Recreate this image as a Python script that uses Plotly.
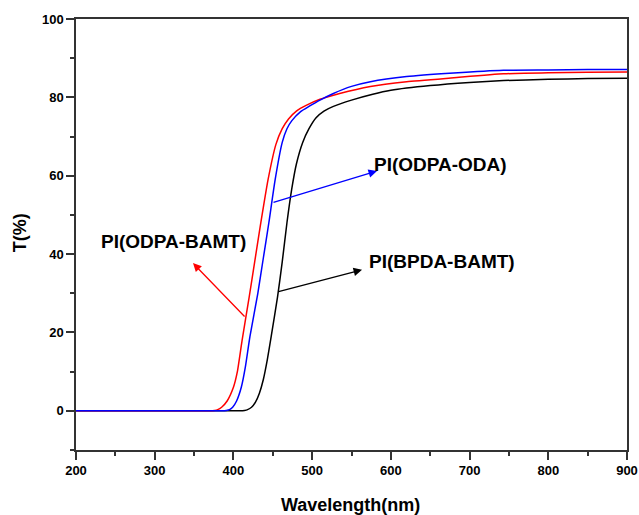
import plotly.graph_objects as go

# Wavelength (nm) and transmittance T(%)
wl_odpa_bamt = [200, 370, 376, 380, 385, 392, 400, 405, 411, 420, 427, 434, 444, 454, 462, 470, 480, 493, 510, 535, 574, 620, 680, 743, 800, 850, 900]
t_odpa_bamt = [0, 0, 0.1, 0.3, 0.9, 2.5, 6, 10, 18, 29, 38, 47, 59, 68, 72, 74.5, 76.5, 78, 79.5, 81, 82.8, 84, 85, 86, 86.3, 86.4, 86.5]

wl_odpa_oda = [200, 385, 391, 395, 399, 404, 410, 415, 421, 431, 438, 445, 453, 462, 468, 474, 485, 497, 510, 527, 550, 574, 620, 680, 743, 800, 850, 900]
t_odpa_oda = [0, 0, 0.1, 0.3, 0.9, 2.5, 6, 11, 19, 30, 39, 48, 59, 68.5, 72, 74, 76.3, 77.8, 79.3, 81, 82.8, 84, 85.3, 86.2, 86.9, 87, 87.1, 87.1]

wl_bpda_bamt = [200, 408, 414, 418, 423, 428, 433, 438, 443, 448, 456, 462, 468, 474, 480, 488, 496, 505, 515, 527, 550, 577, 600, 650, 700, 743, 800, 850, 900]
t_bpda_bamt = [0, 0, 0.1, 0.3, 0.9, 2.2, 4.5, 8, 13, 19, 29, 38, 48, 56.5, 63, 68.5, 72, 74.8, 76.5, 77.7, 79.3, 80.8, 81.8, 83, 83.8, 84.3, 84.6, 84.8, 84.9]

x_ticks = [200, 300, 400, 500, 600, 700, 800, 900]
y_ticks = [0, 20, 40, 60, 80, 100]

FONT = "Arial, Liberation Sans, sans-serif"

fig = go.Figure()
for wl, t, col, nm in [(wl_bpda_bamt, t_bpda_bamt, "black", "PI(BPDA-BAMT)"),
                       (wl_odpa_bamt, t_odpa_bamt, "#ff0000", "PI(ODPA-BAMT)"),
                       (wl_odpa_oda, t_odpa_oda, "#0000ff", "PI(ODPA-ODA)")]:
    fig.add_trace(go.Scatter(x=wl, y=t, mode="lines", name=nm,
                             line=dict(color=col, width=1.5, shape="spline", smoothing=0.5)))

arrows = [
    dict(x=582.4, y=61.2, ax=449, ay=53.1, color="#0000ff"),
    dict(x=348.6, y=37.7, ax=416, ay=23.7, color="#ff0000"),
    dict(x=563.4, y=36.0, ax=455.4, ay=30.3, color="black"),
]
for a in arrows:
    fig.add_annotation(x=a["x"], y=a["y"], ax=a["ax"], ay=a["ay"], xref="x", yref="y",
                       axref="x", ayref="y", text="", showarrow=True, arrowhead=2,
                       arrowsize=1.3, arrowwidth=1.3, arrowcolor=a["color"])

labels = [
    dict(x=576, y=62.8, text="PI(ODPA-ODA)", xanchor="left"),
    dict(x=323.9, y=43.1, text="PI(ODPA-BAMT)", xanchor="center"),
    dict(x=569.7, y=38.0, text="PI(BPDA-BAMT)", xanchor="left"),
]
for l in labels:
    fig.add_annotation(x=l["x"], y=l["y"], xref="x", yref="y", text="<b>" + l["text"] + "</b>",
                       showarrow=False, xanchor=l["xanchor"], yanchor="middle",
                       font=dict(family=FONT, size=19, color="black"))

# axis titles
fig.add_annotation(x=0.499, y=-0.1276, xref="paper", yref="paper", text="<b>Wavelength(nm)</b>",
                   showarrow=False, xanchor="center", yanchor="middle",
                   font=dict(family=FONT, size=18, color="black"))
fig.add_annotation(x=-0.1016, y=0.503, xref="paper", yref="paper", text="<b>T(%)</b>",
                   showarrow=False, xanchor="center", yanchor="middle", textangle=-90,
                   font=dict(family=FONT, size=18, color="black"))

axis_common = dict(showline=True, linecolor="#333333", linewidth=1.5, mirror=True,
                   ticks="outside", ticklen=8, tickwidth=1.5, tickcolor="#333333",
                   showgrid=False, zeroline=False, automargin=False,
                   tickfont=dict(family=FONT, size=13, color="black"))

fig.update_xaxes(range=[200, 900], tickvals=x_ticks, ticktext=["<b>%d</b>" % v for v in x_ticks],
                 minor=dict(ticks="outside", ticklen=4, tickwidth=1.5, tickcolor="#333333", dtick=50),
                 **axis_common)
fig.update_yaxes(range=[-10, 100], tickvals=y_ticks, ticktext=["<b>%d</b>" % v for v in y_ticks],
                 minor=dict(ticks="outside", ticklen=4, tickwidth=1.5, tickcolor="#333333", dtick=10),
                 **axis_common)

fig.update_layout(width=639, height=515, margin=dict(l=76, r=12, t=19, b=65),
                  paper_bgcolor="white", plot_bgcolor="white", showlegend=False)

fig.write_html("out.html")
